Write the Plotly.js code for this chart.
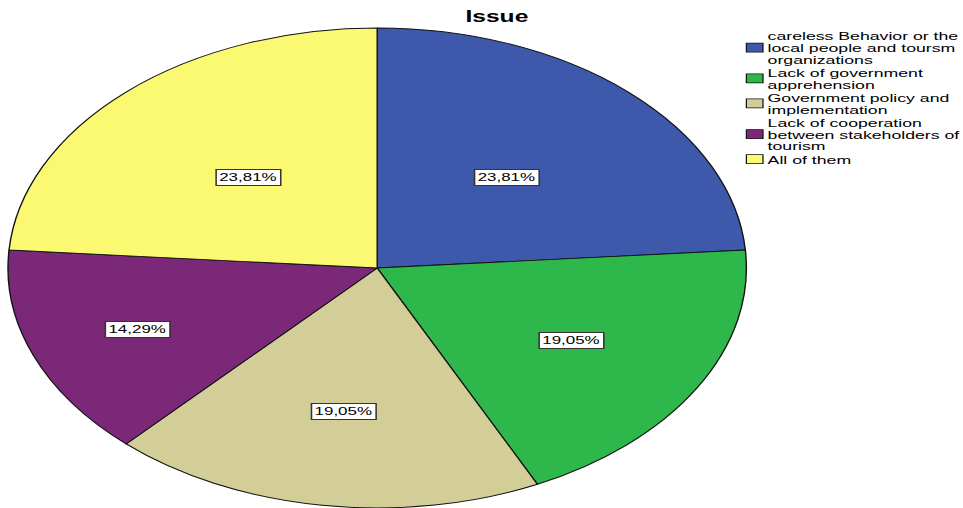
<!DOCTYPE html>
<html><head><meta charset="utf-8">
<script src="https://cdn.plot.ly/plotly-3.0.1.min.js"></script>
<style>
html,body{margin:0;padding:0;background:#fff;overflow:hidden}
#wrap{width:963px;height:508px;overflow:hidden}
#chart{width:626px;height:508px;transform:scaleX(1.5383);transform-origin:0 0}
</style>
</head><body><div id="wrap"><div id="chart"></div></div>
<script>
// ---- data ----
const categories = [
  "careless Behavior or the<br>local people and toursm<br>organizations",
  "Lack of government<br>apprehension",
  "Government policy and<br>implementation",
  "Lack of cooperation<br>between stakeholders of<br>tourism",
  "All of them"
];
const counts = [5, 4, 4, 3, 5];
const chartTitle = "Issue";

// ---- style ----
const sliceColors = ["#3E58AC", "#2EB84B", "#D3CD98", "#7B2878", "#FBF872"];
const W = 626, H = 508;
const cxPx = 245.2, cyPx = 268, rPx = 240;
const FONT = 'Liberation Sans, Arial, sans-serif';
const legendFont = 11.5;

const total = counts.reduce((a, b) => a + b, 0);
const pctText = counts.map(c => (c / total * 100).toFixed(2).replace('.', ',') + '%');

// label annotation positions derived from the values
const annotations = [];
let acc = 0;
counts.forEach((c, i) => {
  const span = c / total * 360;
  const mid = (acc + span / 2) * Math.PI / 180;
  acc += span;
  const rf = 0.97 - 0.0053 * span;
  const x = cxPx + rPx * rf * Math.sin(mid);
  const y = cyPx - rPx * rf * Math.cos(mid);
  annotations.push({
    text: pctText[i], xref: 'paper', yref: 'paper',
    x: x / W, y: 1 - y / H, xanchor: 'center', yanchor: 'middle',
    showarrow: false, bgcolor: '#ffffff', bordercolor: '#333333', borderwidth: 1, borderpad: 1.5,
    font: {family: FONT, size: 11, color: '#000'}
  });
});

const trace = {
  type: 'pie', labels: categories, values: counts, sort: false,
  direction: 'clockwise', rotation: 0, textinfo: 'none', hoverinfo: 'none',
  marker: {colors: sliceColors, line: {color: '#111111', width: 0.9}},
  domain: {x: [(cxPx - rPx) / W, (cxPx + rPx) / W], y: [(H - cyPx - rPx) / H, (H - cyPx + rPx) / H]}
};

const layout = {
  width: W, height: H, margin: {l: 0, r: 0, t: 0, b: 0, autoexpand: false},
  paper_bgcolor: '#fff', plot_bgcolor: '#fff',
  title: {text: '<b>' + chartTitle + '</b>', x: 323 / W, xanchor: 'center', y: 1 - 16 / H, yanchor: 'middle',
    font: {family: FONT, size: 16, color: '#000'}},
  showlegend: true,
  legend: {x: 459 / W, xanchor: 'left', y: 1 - 28 / H, yanchor: 'top', bgcolor: 'rgba(0,0,0,0)',
    font: {family: FONT, size: legendFont, color: '#000'}, tracegroupgap: 0, itemwidth: 30},
  annotations: annotations
};

Plotly.newPlot('chart', [trace], layout, {staticPlot: true, displayModeBar: false}).then(gd => {
  // tighten legend line spacing like the original
  const L = 11.6, G = 1.8;
  let top = 30.2;
  const items = gd.querySelectorAll('.legend .traces');
  if (!items.length) return;
  const pf = items[0].parentNode.getCTM().f;
  items.forEach(g => {
    const text = g.querySelector('text.legendtext');
    const lines = text ? text.querySelectorAll('tspan.line') : [];
    const n = Math.max(1, lines.length);
    const y0 = -L * (n - 1) / 2 + 0.3 * 1.3 * legendFont;
    if (text) {
      text.setAttribute('y', y0);
      lines.forEach((t, k) => { t.setAttribute('y', y0); t.setAttribute('dy', (k * L) + 'px'); });
    }
    const tr = g.getAttribute('transform') || '';
    const m = tr.match(/translate\(\s*([-\d.e]+)/);
    const tx = m ? parseFloat(m[1]) : 0;
    const center = top + n * L / 2;
    g.setAttribute('transform', 'translate(' + tx + ',' + (center - pf) + ')');
    top += n * L + G;
    const pts = g.querySelector('.legendpoints');
    if (pts) pts.setAttribute('transform', 'translate(13.6,0) scale(0.9,0.75)');
  });
  // make sure the legend clip never cuts the text
  gd.querySelectorAll('.legend clipPath rect, .legend .bg').forEach(r => {
    r.setAttribute('width', 200);
  });
});
</script>
</body></html>
